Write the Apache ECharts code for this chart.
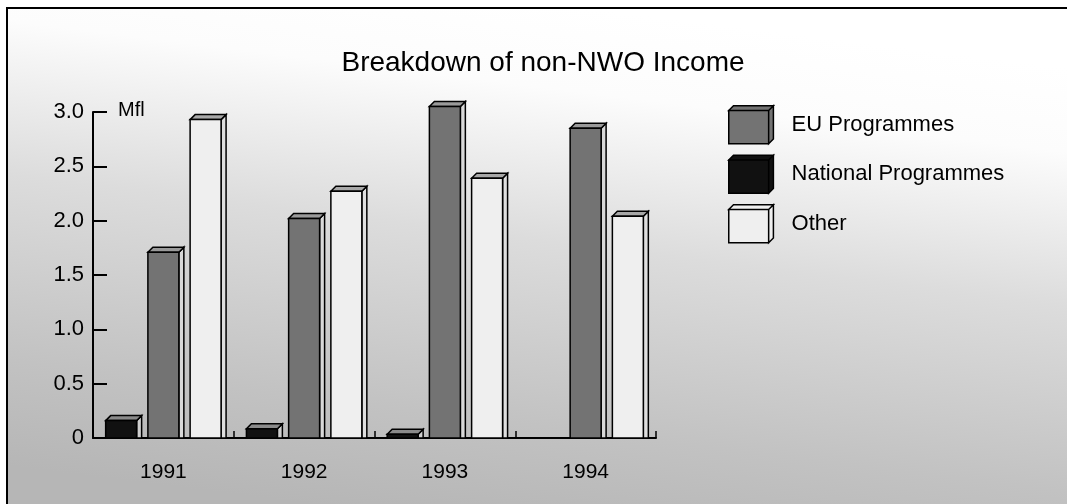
<!DOCTYPE html>
<html>
<head>
<meta charset="utf-8">
<script src="https://cdn.jsdelivr.net/npm/echarts@6/dist/echarts.min.js"></script>
<style>
html,body{margin:0;padding:0;background:#fff;}
#chart{width:1067px;height:504px;}
</style>
</head>
<body>
<div id="chart"></div>
<script>
const categories = ['1991', '1992', '1993', '1994'];
const nationalProgrammes = [0.16, 0.085, 0.035, null];
const euProgrammes = [1.71, 2.02, 3.05, 2.85];
const other = [2.93, 2.27, 2.39, 2.04];
const yTicks = [0, 0.5, 1.0, 1.5, 2.0, 2.5, 3.0];

const FONT = '"Liberation Sans", Arial, Helvetica, sans-serif';

const seriesDefs = [
  { name: 'National Programmes', data: nationalProgrammes, color: '#111111', top: '#8a8a8a', side: '#cfcfcf' },
  { name: 'EU Programmes', data: euProgrammes, color: '#737373', top: '#9a9a9a', side: '#d8d8d8' },
  { name: 'Other', data: other, color: '#efefef', top: '#a8a8a8', side: '#dedede' }
];

function makeRender(def, idx) {
  return function (params, api) {
    const v = api.value(1);
    if (v == null || isNaN(v)) return null;
    const cat = api.value(0);
    const base = api.coord([cat, 0]);
    const topPt = api.coord([cat, v]);
    const band = api.size([1, 0])[0];
    const w = band * 0.22;
    const cx = base[0] + (idx - 1) * band * 0.3;
    const x0 = cx - w / 2, x1 = cx + w / 2;
    const y0 = base[1], y1 = topPt[1];
    const dx = 5, dy = 5;
    const stroke = { stroke: '#000', lineWidth: 1.5 };
    return {
      type: 'group',
      children: [
        { type: 'polygon', shape: { points: [[x1, y0], [x1, y1], [x1 + dx, y1 - dy], [x1 + dx, y0]] },
          style: Object.assign({ fill: def.side }, stroke) },
        { type: 'polygon', shape: { points: [[x0, y1], [x0 + dx, y1 - dy], [x1 + dx, y1 - dy], [x1, y1]] },
          style: Object.assign({ fill: def.top }, stroke) },
        { type: 'rect', shape: { x: x0, y: y1, width: w, height: y0 - y1 },
          style: Object.assign({ fill: def.color }, stroke) }
      ]
    };
  };
}

const chart = echarts.init(document.getElementById('chart'), null, { renderer: 'canvas' });

const option = {
  animation: false,
  backgroundColor: '#ffffff',
  textStyle: { fontFamily: FONT },
  graphic: [
    {
      type: 'rect', z: -10, silent: true,
      shape: { x: 7, y: 8, width: 1080, height: 520 },
      style: {
        fill: new echarts.graphic.LinearGradient(0.53, 0, 0.47, 1, [
          { offset: 0, color: '#ffffff' },
          { offset: 0.16, color: '#fcfcfc' },
          { offset: 0.45, color: '#dcdcdc' },
          { offset: 0.8, color: '#c2c2c2' },
          { offset: 1, color: '#b6b6b6' }
        ]),
        stroke: '#000', lineWidth: 2
      }
    },
    {
      type: 'text', left: 118, top: 100, z: 10,
      style: { text: 'Mfl', font: '20px ' + FONT, fill: '#000' }
    }
  ],
  title: {
    text: 'Breakdown of non-NWO Income',
    left: 538, top: 44, textAlign: 'center',
    textStyle: { fontFamily: FONT, fontSize: 28, fontWeight: 'normal', color: '#000' }
  },
  legend: {
    orient: 'vertical',
    left: 723, top: 100,
    itemWidth: 47, itemHeight: 38, itemGap: 10,
    data: ['EU Programmes', 'National Programmes', 'Other'],
    icon: 'path://M0,5L42,5L42,40L0,40Z M0,5L5,0L47,0L42,5Z M42,5L47,0L47,35L42,40Z',
    itemStyle: { borderColor: '#000', borderWidth: 1.5 },
    textStyle: { fontFamily: FONT, fontSize: 22, color: '#000', padding: [0, 0, 0, 12] }
  },
  grid: { left: 93, right: 411, top: 112, bottom: 66, containLabel: false },
  xAxis: {
    type: 'category',
    data: categories,
    boundaryGap: true,
    axisLine: { show: true, lineStyle: { color: '#000', width: 2 } },
    axisTick: { show: true, inside: true, length: 7, lineStyle: { color: '#000', width: 1.5 } },
    axisLabel: { color: '#000', fontSize: 21, fontFamily: FONT, margin: 24 },
    splitLine: { show: false }
  },
  yAxis: {
    type: 'value',
    min: 0, max: 3, interval: 0.5,
    axisLine: { show: true, lineStyle: { color: '#000', width: 2 } },
    axisTick: { show: true, inside: true, length: 14, lineStyle: { color: '#000', width: 2 } },
    axisLabel: {
      color: '#000', fontSize: 22, fontFamily: FONT, margin: 9,
      formatter: function (v) {
        const t = yTicks.find(function (x) { return Math.abs(x - v) < 1e-9; });
        if (t === undefined) return '';
        return t === 0 ? '0' : t.toFixed(1);
      }
    },
    splitLine: { show: false }
  },
  series: seriesDefs.map(function (def, idx) {
    return {
      type: 'custom',
      name: def.name,
      clip: false,
      itemStyle: { color: def.color, borderColor: '#000' },
      renderItem: makeRender(def, idx),
      encode: { x: 0, y: 1 },
      data: def.data.map(function (v, i) { return [i, v]; })
    };
  })
};

chart.setOption(option);
</script>
</body>
</html>
